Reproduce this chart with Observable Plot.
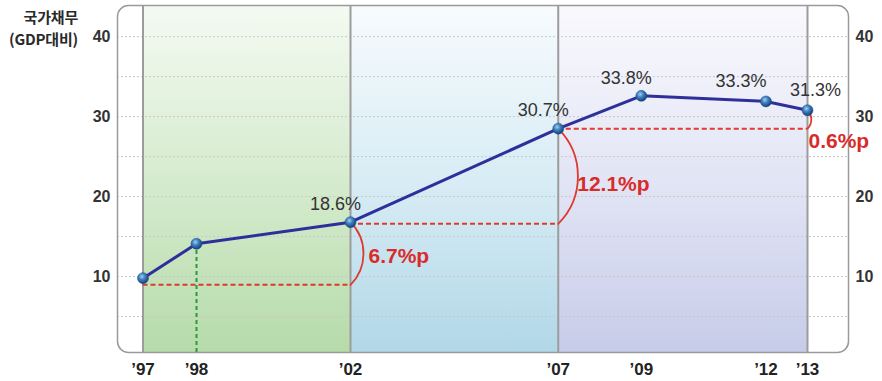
<!DOCTYPE html>
<html>
<head>
<meta charset="utf-8">
<script src="https://cdn.jsdelivr.net/npm/d3@7"></script>
<script src="https://cdn.jsdelivr.net/npm/@observablehq/plot@0.6"></script>
<style>
  html, body { margin: 0; padding: 0; background: #fff; }
  #wrap { position: relative; width: 882px; height: 381px; }
  .tline { position: absolute; left: 0; width: 78px; text-align: right; height: 16px;
           font-family: "Noto Sans CJK KR", sans-serif; font-weight: 700; font-size: 15px;
           line-height: 16px; color: #2a2a2a; letter-spacing: -0.2px; white-space: nowrap; }
  svg { font-family: "Liberation Sans", Arial, sans-serif; }
  g[aria-label^="x-axis"] text { font-size: 17px; font-weight: 700; fill: #222; }
  g[aria-label^="y-axis"] text { font-size: 16px; font-weight: 700; fill: #333; }
</style>
</head>
<body>
<div id="wrap">
  <div class="tline" style="top:9px">국가채무</div>
  <div class="tline" style="top:31px">(GDP대비)</div>
</div>
<script>
// Data
const years = [1997, 1998, 2002, 2007, 2009, 2012, 2013];
const yearTicks = ["’97", "’98", "’02", "’07", "’09", "’12", "’13"];
const debt = [9.8, 14.1, 16.8, 28.5, 32.6, 31.9, 30.8];
const debtLabels = ["", "", "18.6%", "30.7%", "33.8%", "33.3%", "31.3%"];
const yTicks = [10, 20, 30, 40];
const gridValues = [5, 10, 15, 20, 25, 30, 35, 40];
const bandStart = [1997, 2002, 2007];
const bandEnd = [2002, 2007, 2013];
const bandIds = ["gGreen", "gBlue", "gLav"];
const dividerYears = [1997, 2002, 2007, 2013];
const gapFrom = [1997, 2002, 2007];
const gapTo = [2002, 2007, 2013];
const gapBase = [8.96, 16.6, 28.5];
const gapTop = [16.8, 28.5, 30.8];
const gapLabels = ["6.7%p", "12.1%p", "0.6%p"];

const points = years.map((y, i) => ({year: y, value: debt[i], label: debtLabels[i]}));
const bands = bandStart.map((s, i) => ({x1: s, x2: bandEnd[i], id: bandIds[i]}));
const gaps = gapFrom.map((f, i) => ({from: f, to: gapTo[i], base: gapBase[i], top: gapTop[i], label: gapLabels[i]}));

const defs = () => {
  const d = d3.create("svg:defs");
  const grads = [
    ["gGreen", "#f4faf2", "#d3eacb", "#b6dbaa"],
    ["gBlue", "#f7fbfd", "#d5ebf4", "#b1d7e8"],
    ["gLav", "#f9f9fd", "#e0e3f4", "#c7cce9"]
  ];
  for (const [id, c0, c1, c2] of grads) {
    const g = d.append("linearGradient").attr("id", id).attr("x1", 0).attr("y1", 0).attr("x2", 0).attr("y2", 1);
    g.append("stop").attr("offset", "0%").attr("stop-color", c0);
    g.append("stop").attr("offset", "55%").attr("stop-color", c1);
    g.append("stop").attr("offset", "100%").attr("stop-color", c2);
  }
  const r = d.append("radialGradient").attr("id", "ball").attr("cx", "40%").attr("cy", "35%").attr("r", "65%");
  r.append("stop").attr("offset", "0%").attr("stop-color", "#9fd0f0");
  r.append("stop").attr("offset", "45%").attr("stop-color", "#3d7fbf");
  r.append("stop").attr("offset", "100%").attr("stop-color", "#163f78");
  return d.node();
};

const chart = Plot.plot({
  width: 882,
  height: 381,
  marginLeft: 117,
  marginRight: 34,
  marginTop: 5,
  marginBottom: 29,
  x: {type: "linear", domain: [1997, 1998, 2002, 2013], range: [142.5, 196, 350, 807],
      ticks: years, tickFormat: d => yearTicks[years.indexOf(d)], tickSize: 0, tickPadding: 10, label: null},
  y: {domain: [0.5, 43.9], axis: "both", ticks: yTicks, tickSize: 0, tickPadding: 7, label: null},
  marks: [
    defs,
    Plot.rect(bands, {x1: "x1", x2: "x2", y1: 0.5, y2: 43.9, fill: d => `url(#${d.id})`}),
    Plot.ruleY(gridValues, {stroke: "#c8c8c8", strokeWidth: 1, strokeDasharray: "2,2"}),
    Plot.ruleX(dividerYears, {stroke: "#9c9c9c", strokeWidth: 2}),
    Plot.frame({stroke: "#9a9a9a", strokeWidth: 1.5, rx: 11}),
    Plot.ruleY(gaps, {x1: "from", x2: "to", y: "base", stroke: "#df3a2f", strokeWidth: 2, strokeDasharray: "5,3"}),
    Plot.ruleX([points[1]], {x: "year", y1: 0.5, y2: "value", stroke: "#2a9a3c", strokeWidth: 2, strokeDasharray: "4,3"}),
    Plot.arrow(gaps, {x1: "to", x2: "to", y1: "top", y2: "base", bend: 45, headLength: 0, stroke: "#df3a2f", strokeWidth: 1.8}),
    Plot.line(points, {x: "year", y: "value", stroke: "#2f2f9c", strokeWidth: 3}),
    Plot.dot(points, {x: "year", y: "value", r: 5.5, fill: "url(#ball)", stroke: "#1c4a82", strokeWidth: 0.5}),
    Plot.text(points.filter((d, i) => i >= 2 && i <= 4), {x: "year", y: "value", text: "label", dx: -15, dy: -18,
      fontSize: 18, fill: "#333"}),
    Plot.text([points[5]], {x: "year", y: "value", text: "label", dx: -25, dy: -20, fontSize: 18, fill: "#333"}),
    Plot.text([points[6]], {x: "year", y: "value", text: "label", dx: 8, dy: -20, fontSize: 18, fill: "#333"}),
    Plot.text([gaps[0]], {x: "to", y: d => (d.top + d.base) / 2, text: "label", dx: 18, dy: 3, textAnchor: "start",
      fontSize: 21, fontWeight: 700, fill: "#d92c2a"}),
    Plot.text([gaps[1]], {x: "to", y: d => (d.top + d.base) / 2, text: "label", dx: 19, dy: 8, textAnchor: "start",
      fontSize: 21, fontWeight: 700, fill: "#d92c2a"}),
    Plot.text([gaps[2]], {x: "to", y: "base", text: "label", dx: 1, dy: 13, textAnchor: "start",
      fontSize: 21, fontWeight: 700, fill: "#d92c2a"})
  ]
});
document.getElementById("wrap").prepend(chart);
</script>
</body>
</html>
